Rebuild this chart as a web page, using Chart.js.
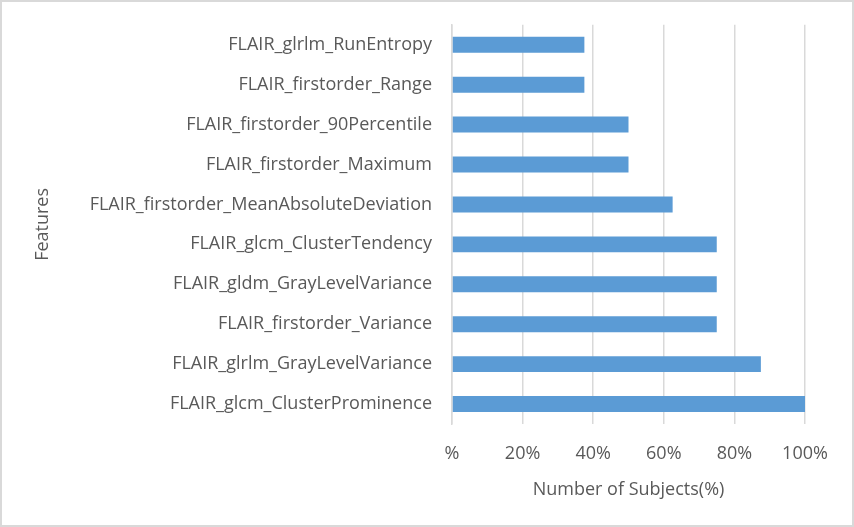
<!DOCTYPE html>
<html>
<head>
<meta charset="utf-8">
<script src="https://cdn.jsdelivr.net/npm/chart.js@4/dist/chart.umd.min.js"></script>
<style>
  body { margin: 0; background: #fff; }
  #caixa { width: 854px; height: 527px; box-sizing: border-box; border: 2px solid #d9d9d9; background: #fff; }
</style>
</head>
<body>
<div id="caixa"><canvas id="chart" width="850" height="523"></canvas></div>
<script>
// features, top to bottom as in the picture
var features = [
    "FLAIR_glrlm_RunEntropy",
    "FLAIR_firstorder_Range",
    "FLAIR_firstorder_90Percentile",
    "FLAIR_firstorder_Maximum",
    "FLAIR_firstorder_MeanAbsoluteDeviation",
    "FLAIR_glcm_ClusterTendency",
    "FLAIR_gldm_GrayLevelVariance",
    "FLAIR_firstorder_Variance",
    "FLAIR_glrlm_GrayLevelVariance",
    "FLAIR_glcm_ClusterProminence"
];
var percentSubjects = [37.5, 37.5, 50, 50, 62.5, 75, 75, 75, 87.5, 100];
var xTicks = [0, 20, 40, 60, 80, 100];

var fonte = "'Open Sans', sans-serif";
var cinza = "#595959";

const ctx = document.getElementById('chart');
new Chart(ctx, {
    type: 'bar',
    data: {
        labels: features,
        datasets: [{
            data: percentSubjects,
            backgroundColor: '#5b9bd5',
            borderWidth: 0,
            barPercentage: 0.8,
            categoryPercentage: 0.5
        }]
    },
    options: {
        indexAxis: 'y',
        responsive: false,
        animation: false,
        layout: { padding: { left: 30, right: 47, top: 17, bottom: 24 } },
        plugins: {
            legend: { display: false },
            tooltip: { enabled: false }
        },
        scales: {
            x: {
                min: 0,
                max: 100,
                afterBuildTicks: function (s) {
                    s.ticks = xTicks.map(function (v) { return { value: v }; });
                },
                grid: { color: '#d9d9d9', lineWidth: 1.5, drawTicks: false },
                border: { display: false },
                ticks: {
                    padding: 19,
                    color: cinza,
                    font: { family: fonte, size: 18 },
                    callback: function (v) { return v === 0 ? '%' : v + '%'; }
                },
                title: {
                    display: true,
                    text: 'Number of Subjects(%)',
                    color: cinza,
                    font: { family: fonte, size: 18 },
                    padding: { top: 8, bottom: 0 }
                },
                afterFit: function (s) { s.height = 77; }
            },
            y: {
                grid: { display: false },
                border: { display: true, color: '#d9d9d9', width: 1.5 },
                ticks: {
                    padding: 12,
                    color: cinza,
                    font: { family: fonte, size: 18 }
                },
                title: {
                    display: true,
                    text: 'Features',
                    color: cinza,
                    font: { family: fonte, size: 18 },
                    padding: 0
                },
                afterFit: function (s) { s.width = 420; }
            }
        }
    }
});
</script>
</body>
</html>
